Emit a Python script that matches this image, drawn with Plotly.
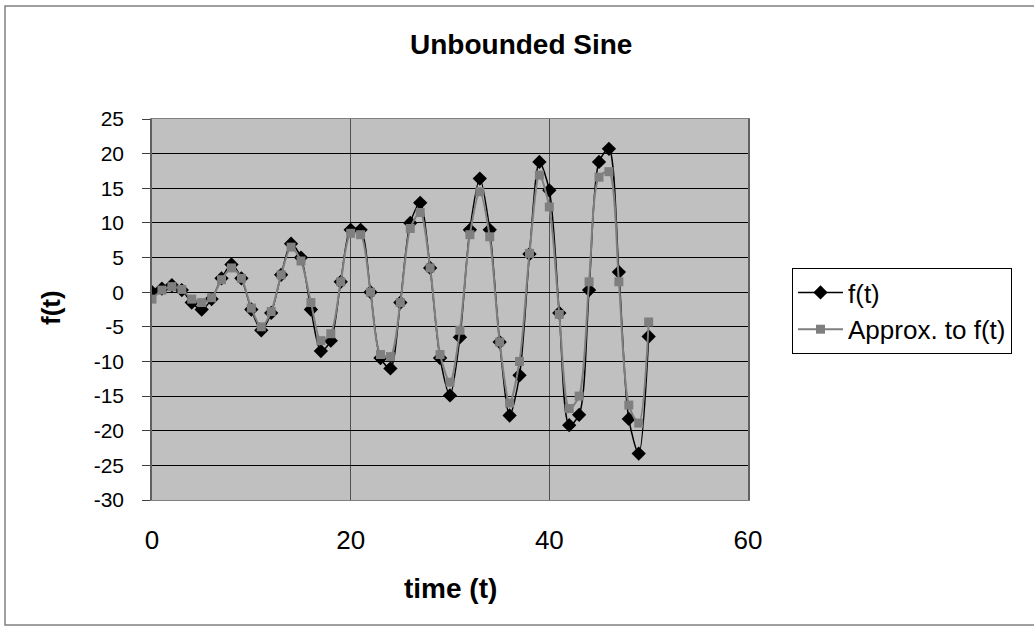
import plotly.graph_objects as go

t = list(range(51))
f_t = [0, 0.5, 1, 0.3, -1.5, -2.5, -1, 2, 4, 2,
       -2.5, -5.5, -3, 2.5, 7, 5, -2.5, -8.5, -7, 1.5,
       9, 9, 0, -9.5, -11, -1.5, 10, 12.9, 3.5, -9.5,
       -14.9, -6.5, 9, 16.4, 9, -7.2, -17.8, -12, 5.5, 18.8,
       14.7, -3, -19.2, -17.7, 0.3, 18.8, 20.7, 2.9, -18.3, -23.3,
       -6.4]
approx = [-1, 0.3, 0.8, 0.4, -1, -1.5, -0.8, 1.8, 3.5, 2,
          -2.3, -5, -2.8, 2.5, 6.5, 4.5, -1.5, -7, -6, 1.5,
          8.5, 8.3, 0, -9, -9.3, -1.5, 9.2, 11.5, 3.5, -9,
          -13, -5.5, 8.3, 14.5, 8, -7.2, -16, -10, 5.6, 16.9,
          12.3, -3.2, -16.8, -15, 1.5, 16.6, 17.4, 1.5, -16.3, -18.9,
          -4.3]

x_ticks = [0, 20, 40, 60]
y_ticks = list(range(-30, 30, 5))

FONT = "Liberation Sans, Arial, sans-serif"

fig = go.Figure()
fig.add_trace(go.Scatter(
    x=t, y=f_t, name="f(t)", mode="lines+markers",
    line=dict(color="black", width=1.5, shape="spline", smoothing=0.8),
    marker=dict(symbol="diamond", size=11, color="black"),
))
fig.add_trace(go.Scatter(
    x=t, y=approx, name="Approx. to f(t)", mode="lines+markers",
    line=dict(color="#7f7f7f", width=2, shape="spline", smoothing=0.8),
    marker=dict(symbol="square", size=9, color="#7f7f7f"),
))

W, H = 1034, 627
L, R, T, B = 152, 748, 119, 500
pw, ph = R - L, B - T

def px(xp):
    return (xp - L) / pw

def py(yp):
    return (B - yp) / ph

fig.update_layout(
    width=W, height=H,
    margin=dict(l=L, r=W - R, t=T, b=H - B),
    paper_bgcolor="white",
    plot_bgcolor="#c0c0c0",
    font=dict(family=FONT, size=21, color="black"),
    showlegend=True,
    legend=dict(
        x=px(792), y=py(268), xanchor="left", yanchor="top",
        bordercolor="black", borderwidth=1, bgcolor="white",
        font=dict(size=26, family=FONT), tracegroupgap=0,
        itemwidth=45,
    ),
    xaxis=dict(
        range=[0, 60], tickvals=x_ticks, ticktext=[str(v) for v in x_ticks],
        tickfont=dict(size=26),
        showgrid=True, gridcolor="#505050", gridwidth=1,
        zeroline=False, showline=True, linecolor="#808080", linewidth=1, mirror=True,
        ticks="outside", ticklen=17, tickcolor="rgba(0,0,0,0)",
    ),
    yaxis=dict(
        range=[-30, 25], tickvals=y_ticks, ticktext=[str(v) for v in y_ticks],
        tickfont=dict(size=21),
        showgrid=True, gridcolor="black", gridwidth=1,
        zeroline=True, zerolinecolor="black", zerolinewidth=1,
        showline=True, linecolor="#606060", linewidth=1.5, mirror=True,
        ticks="outside", ticklen=8, tickcolor="#404040",
        ticklabelstandoff=14,
    ),
    annotations=[
        dict(text="<b>Unbounded Sine</b>", xref="paper", yref="paper",
             x=px(521), y=py(45), xanchor="center", yanchor="middle",
             showarrow=False, font=dict(size=28, family=FONT)),
        dict(text="<b>time (t)</b>", xref="paper", yref="paper",
             x=px(450), y=py(588), xanchor="center", yanchor="middle",
             showarrow=False, font=dict(size=28, family=FONT)),
        dict(text="<b>f(t)</b>", xref="paper", yref="paper", textangle=-90,
             x=px(51), y=py(308), xanchor="center", yanchor="middle",
             showarrow=False, font=dict(size=26, family=FONT)),
    ],
    shapes=[
        dict(type="rect", xref="paper", yref="paper",
             x0=px(5), x1=px(1040), y0=py(625), y1=py(6),
             line=dict(color="#808080", width=1.5), layer="below"),
    ],
)

fig.write_html("out.html")
